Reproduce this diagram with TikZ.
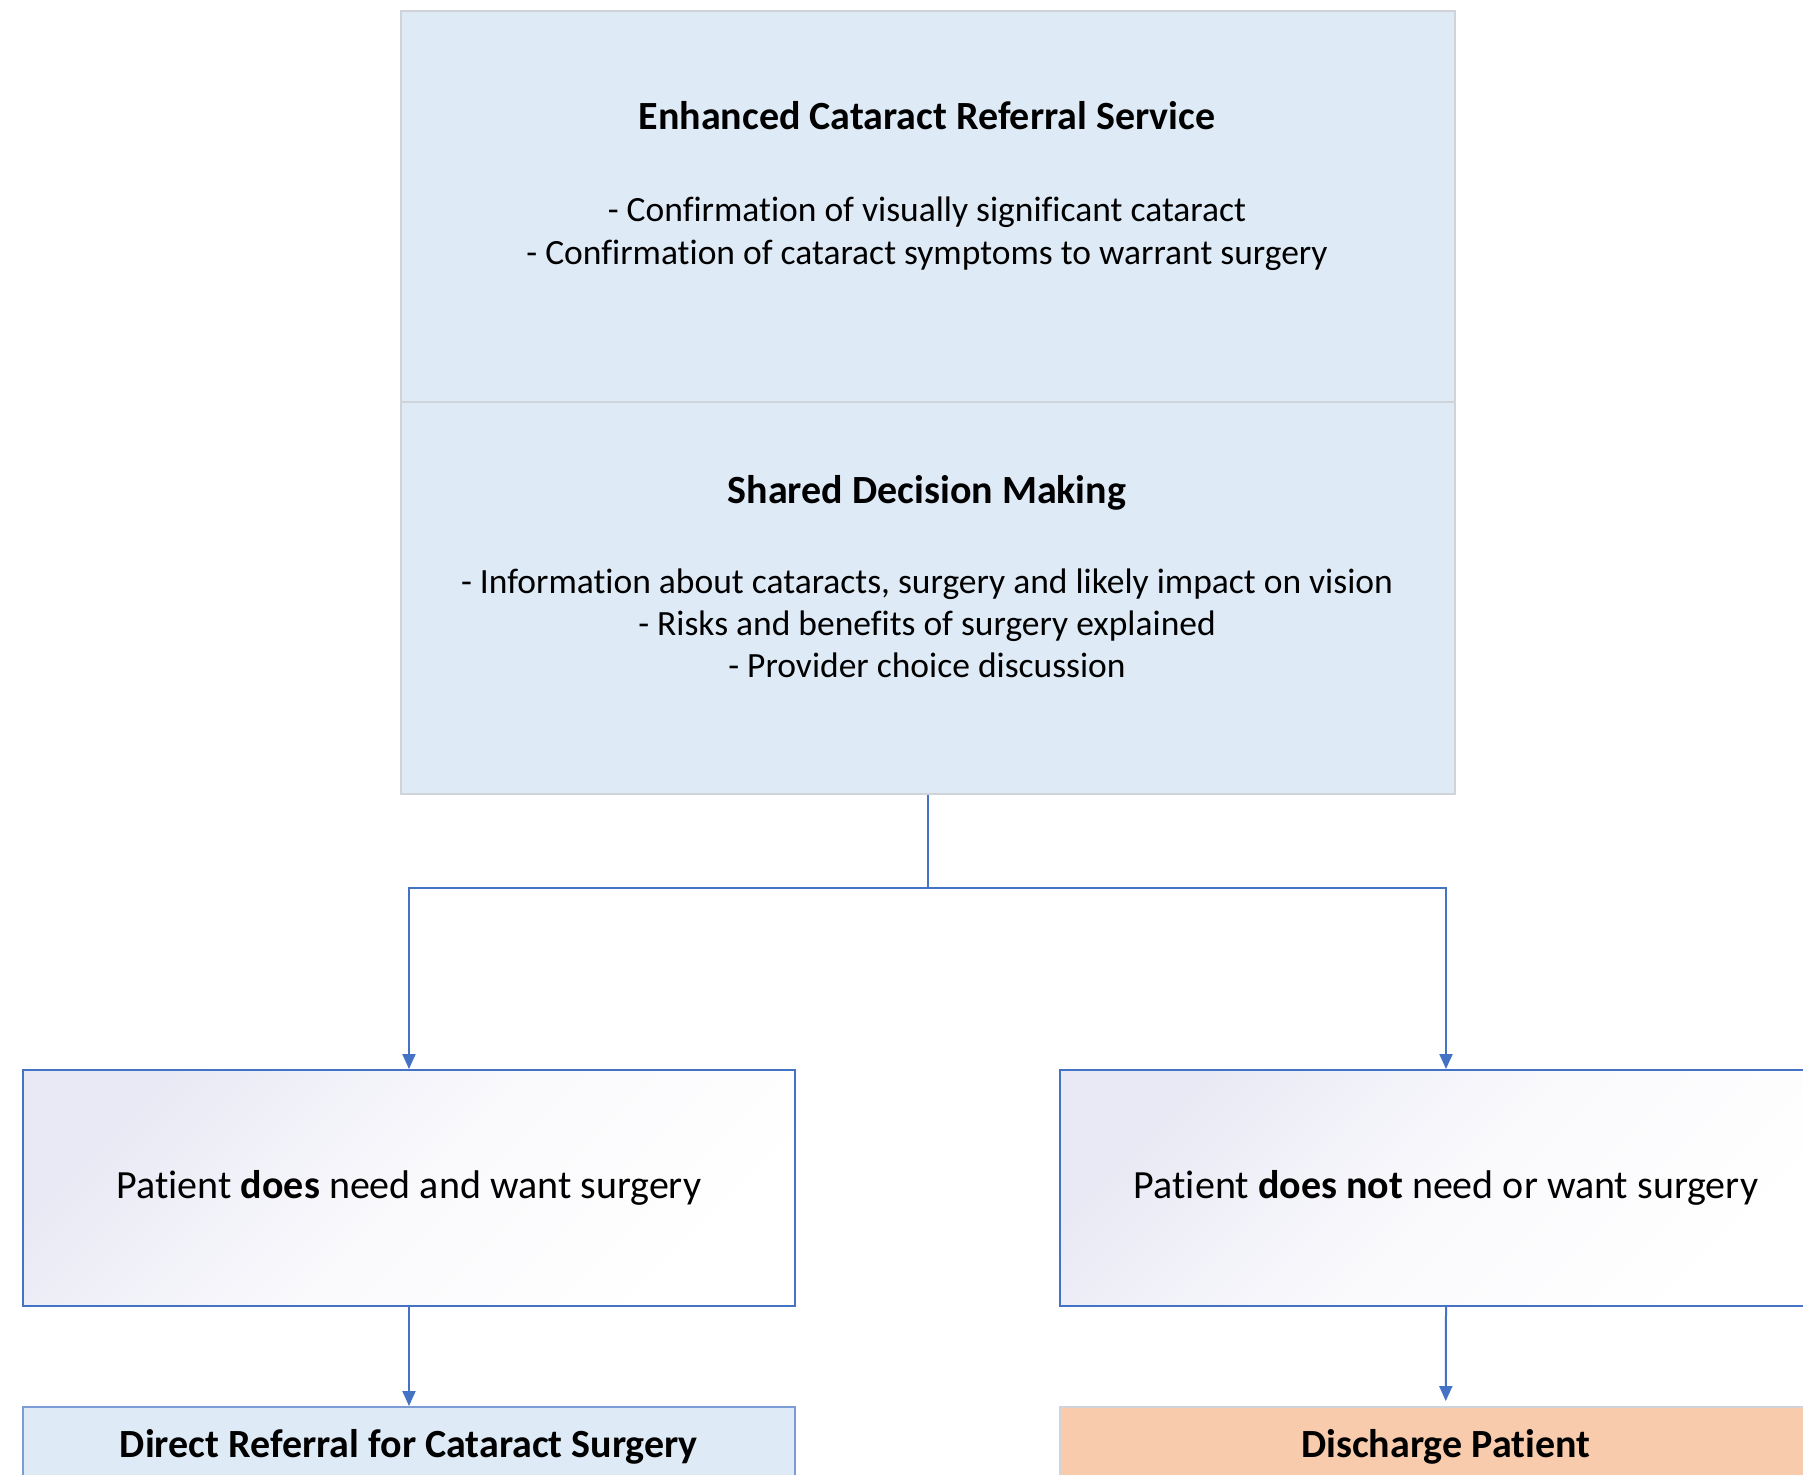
\documentclass[tikz,border=0pt]{standalone}
\usepackage{fontspec}
\setmainfont[Ligatures={NoCommon}]{Carlito}
\usetikzlibrary{arrows.meta,calc}
\definecolor{boxblue}{HTML}{DEEAF6}
\definecolor{boxgray}{HTML}{D0D4D9}
\definecolor{lineblue}{HTML}{4472C4}
\definecolor{lav}{HTML}{E9E9F5}
\definecolor{orangefill}{HTML}{F8CBAD}
\begin{document}
\begin{tikzpicture}[x=1pt,y=-1pt,
  topbox/.style={draw=boxgray,line width=1.5pt,fill=boxblue,minimum width=1054pt,inner sep=0pt},
  midbox/.style={draw=lineblue,line width=2pt,top color=lav,bottom color=white,middle color=white!75!lav,shading angle=45,minimum width=772pt,minimum height=236pt,inner sep=0pt},
  refbox/.style={draw=lineblue!70,line width=2pt,fill=boxblue,minimum width=772pt,minimum height=100pt,inner sep=0pt},
  disbox/.style={draw=boxgray,line width=1.5pt,fill=orangefill,minimum width=772pt,minimum height=100pt,inner sep=0pt},
  titletext/.style={font=\fontsize{40}{48}\selectfont\bfseries,inner sep=0pt,anchor=base},
  bodytext/.style={font=\fontsize{35.5}{42}\selectfont,inner sep=0pt,anchor=base},
  pattext/.style={font=\fontsize{40}{48}\selectfont,inner sep=0pt,anchor=base},
  conn/.style={draw=lineblue,line width=2pt,-{Triangle[length=15pt,width=13pt]}},
  plain/.style={draw=lineblue,line width=2pt}
]
\useasboundingbox (0,0) rectangle (1803,1474);
\clip (0,0) rectangle (1803,1474);
\fill[white] (0,0) rectangle (1803,1474);
% top boxes
\node[topbox,minimum height=391pt,anchor=north west] (ecrs) at (400,10.3) {};
\node[topbox,minimum height=392pt,anchor=north west] (sdm) at (400,401.3) {};
\node[titletext] (t1) at (927,130) {Enhanced Cataract Referral Service};
\node[bodytext] (b1a) at (927,222) {- Confirmation of visually significant cataract};
\node[bodytext] (b1b) at (927,264) {- Confirmation of cataract symptoms to warrant surgery};
\node[titletext] (t2) at (927,503) {Shared Decision Making};
\node[bodytext] (b2a) at (927,593.3) {- Information about cataracts, surgery and likely impact on vision};
\node[bodytext] (b2b) at (927,635.3) {- Risks and benefits of surgery explained};
\node[bodytext] (b2c) at (927,677.3) {- Provider choice discussion};
% middle boxes
\node[midbox,anchor=north west] (yes) at (22,1069) {};
\node[midbox,anchor=north west] (no) at (1059,1069) {};
\node[pattext] (yest) at (yes.center |- 0,1198.5) {Patient \textbf{does} need and want surgery};
\node[pattext] (not) at (no.center |- 0,1198.5) {Patient \textbf{does not} need or want surgery};
% bottom boxes
\node[refbox,anchor=north west] (ref) at (22,1406) {};
\node[disbox,anchor=north west] (dis) at (1059,1406) {};
\node[titletext] (reft) at (ref.center |- 0,1457) {Direct Referral for Cataract Surgery};
\node[titletext] (dist) at (dis.center |- 0,1457) {Discharge Patient};
% connectors
\coordinate (split) at ($(sdm.south)+(0,93.5)$);
\draw[plain] (sdm.south) -- (split);
\draw[conn] (split) -| (yes.north);
\draw[conn] (split) -| (no.north);
\draw[conn] (yes.south) -- (ref.north);
\draw[conn,shorten >=5pt] (no.south) -- (dis.north);
\end{tikzpicture}
\end{document}
